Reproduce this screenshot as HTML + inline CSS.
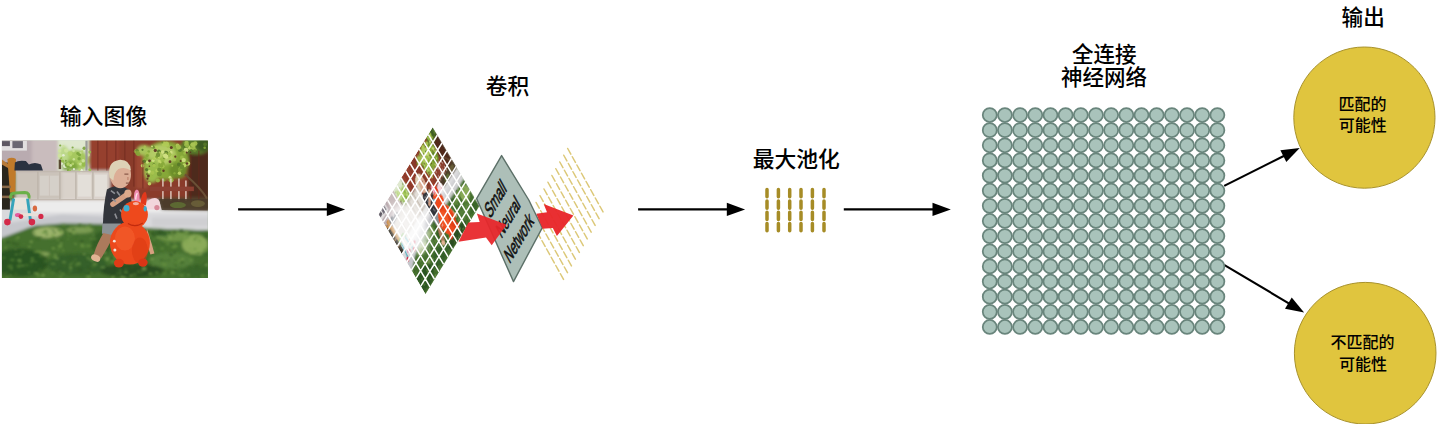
<!DOCTYPE html>
<html><head><meta charset="utf-8"><title>CNN pipeline</title>
<style>
html,body{margin:0;padding:0;background:#fff;}
body{width:1440px;height:424px;overflow:hidden;font-family:"Liberation Sans",sans-serif;}
svg{display:block;}
</style></head><body>
<svg width="1440" height="424" viewBox="0 0 1440 424">
<defs>
<filter id="b1" x="-5%" y="-5%" width="110%" height="110%"><feGaussianBlur stdDeviation="0.6"/></filter>
<filter id="b15" x="-5%" y="-5%" width="110%" height="110%"><feGaussianBlur stdDeviation="1.0"/></filter>
<filter id="b2" x="-20%" y="-20%" width="140%" height="140%"><feGaussianBlur stdDeviation="1.6"/></filter>
<filter id="b3" x="-30%" y="-30%" width="160%" height="160%"><feGaussianBlur stdDeviation="3"/></filter>
<clipPath id="pc"><rect x="0" y="0" width="206" height="137.5"/></clipPath>
<g id="photo" clip-path="url(#pc)">
<rect x="0" y="0" width="206" height="137.5" fill="#456f2e"/>
<g filter="url(#b2)">
<!-- house siding -->
<rect x="-4" y="-4" width="64" height="36" fill="#b9abb0"/>
<rect x="30" y="-4" width="30" height="34" fill="#c9bcbd"/>
<!-- sky / light trees -->
<rect x="56" y="-4" width="33" height="36" fill="#dfe8cf"/>
<ellipse cx="74" cy="20" rx="13" ry="11" fill="#a6c85e"/>
<ellipse cx="68" cy="26" rx="8" ry="6" fill="#7fa83e"/>
<ellipse cx="62" cy="14" rx="5" ry="9" fill="#bcd88a"/>
<!-- red fence -->
<rect x="87.5" y="-4" width="122" height="66" fill="#8a3a2a"/>
<rect x="87.5" y="-4" width="30" height="36" fill="#96402e"/>
<rect x="186" y="10" width="24" height="54" fill="#4e2a1c"/>
<rect x="134" y="14" width="12" height="34" fill="#9c4632"/>
<!-- lattice fence -->
<rect x="13" y="30" width="95" height="31" fill="#cbc3ba"/>
<rect x="60" y="30" width="48" height="31" fill="#d9d2ca"/>
<!-- concrete -->
<path d="M-4,60 L210,60 L210,90 L150,88 L104,83.5 L60,83 C40,86 20,92 -4,99 Z" fill="#d9d9dc"/>
<rect x="30" y="60" width="180" height="12" fill="#ececec"/>
<path d="M150,77 L210,77 L210,86 L150,86 Z" fill="#cfcfd2"/>
<path d="M-4,84 L60,74 L104,76 L104,83.5 L60,83 C40,86 20,92 -4,99 Z" fill="#c6c7cc"/>
<!-- mulch -->
<path d="M156,57 L210,57 L210,70 L160,69.5 Z" fill="#54452f"/>
<ellipse cx="190" cy="64" rx="14" ry="3" fill="#6c7a3c"/>
<!-- grass tones -->
<path d="M-4,99 C12,93 24,88 34,85 L60,83 L104,83.5 L150,88 L210,90 L210,142 L-4,142 Z" fill="#456f2e"/>
<ellipse cx="46" cy="92" rx="15" ry="5.5" fill="#9cb46c"/>
<ellipse cx="78" cy="89.5" rx="14" ry="3.5" fill="#7c9c52"/>
<ellipse cx="42" cy="114" rx="6" ry="2.5" fill="#86a45a"/>
<ellipse cx="193" cy="104" rx="13" ry="10" fill="#8aaa58"/>
<ellipse cx="172" cy="96" rx="16" ry="5" fill="#6f9646"/>
<ellipse cx="170" cy="120" rx="22" ry="8" fill="#55803a"/>
<ellipse cx="18" cy="122" rx="28" ry="14" fill="#2c5424"/>
<ellipse cx="75" cy="124" rx="30" ry="11" fill="#35602a"/>
<ellipse cx="130" cy="130" rx="32" ry="7" fill="#2a4e22"/>
<ellipse cx="160" cy="93" rx="10" ry="3" fill="#35602a"/>
<ellipse cx="100" cy="103" rx="10" ry="12" fill="#345e28"/>
<ellipse cx="195" cy="131" rx="16" ry="6" fill="#3a662c"/>
<!-- tree foliage right -->
<ellipse cx="164" cy="20" rx="23" ry="19" fill="#86a838"/>
<ellipse cx="160" cy="14" rx="14" ry="10" fill="#b4cc66"/>
<ellipse cx="150" cy="30" rx="8" ry="12" fill="#9abc4c"/>
<ellipse cx="194" cy="5" rx="15" ry="9" fill="#587a2a"/><ellipse cx="202" cy="4" rx="8" ry="7" fill="#3e5c20"/>
<ellipse cx="142" cy="10" rx="7" ry="5" fill="#a8c45a"/>
<ellipse cx="176" cy="30" rx="9" ry="8" fill="#6c8e2c"/>
</g>
<g filter="url(#b1)" opacity="0.9"><circle cx="154.6" cy="7.2" r="2.0" fill="#b2cc58"/><circle cx="192.4" cy="4.5" r="1.9" fill="#86a838"/><circle cx="162.3" cy="39.7" r="1.2" fill="#86a838"/><circle cx="177.9" cy="28.0" r="1.1" fill="#d2e284"/><circle cx="133.8" cy="10.6" r="1.9" fill="#9cbc48"/><circle cx="152.0" cy="6.9" r="1.2" fill="#6e9030"/><circle cx="172.6" cy="32.7" r="1.2" fill="#86a838"/><circle cx="158.3" cy="26.3" r="1.1" fill="#c4da68"/><circle cx="177.0" cy="23.8" r="1.9" fill="#56782a"/><circle cx="157.5" cy="11.9" r="1.3" fill="#86a838"/><circle cx="167.6" cy="16.5" r="1.7" fill="#b2cc58"/><circle cx="187.5" cy="7.3" r="1.8" fill="#c4da68"/><circle cx="203.1" cy="3.7" r="1.9" fill="#56782a"/><circle cx="155.8" cy="16.8" r="1.8" fill="#a8c450"/><circle cx="150.5" cy="33.5" r="1.1" fill="#6e9030"/><circle cx="159.3" cy="32.1" r="1.0" fill="#a8c450"/><circle cx="157.0" cy="29.3" r="1.8" fill="#86a838"/><circle cx="188.4" cy="6.2" r="1.4" fill="#d2e284"/><circle cx="142.6" cy="19.3" r="1.4" fill="#9cbc48"/><circle cx="151.2" cy="19.9" r="1.6" fill="#d2e284"/><circle cx="202.8" cy="7.2" r="1.3" fill="#86a838"/><circle cx="193.2" cy="8.8" r="1.5" fill="#9cbc48"/><circle cx="161.8" cy="17.7" r="1.9" fill="#9cbc48"/><circle cx="182.5" cy="24.7" r="2.0" fill="#c4da68"/><circle cx="172.5" cy="19.1" r="1.6" fill="#a8c450"/><circle cx="135.1" cy="10.0" r="1.3" fill="#56782a"/><circle cx="175.7" cy="4.9" r="1.9" fill="#b2cc58"/><circle cx="135.3" cy="10.0" r="1.6" fill="#6e9030"/><circle cx="166.0" cy="5.5" r="1.8" fill="#a8c450"/><circle cx="166.5" cy="15.0" r="1.2" fill="#56782a"/><circle cx="186.3" cy="23.0" r="2.1" fill="#c4da68"/><circle cx="157.5" cy="33.1" r="2.5" fill="#6e9030"/><circle cx="182.9" cy="12.5" r="1.6" fill="#9cbc48"/><circle cx="157.0" cy="10.7" r="1.9" fill="#56782a"/><circle cx="178.4" cy="29.4" r="2.3" fill="#86a838"/><circle cx="186.2" cy="10.9" r="1.8" fill="#56782a"/><circle cx="144.7" cy="29.0" r="1.6" fill="#56782a"/><circle cx="146.8" cy="10.9" r="1.3" fill="#86a838"/><circle cx="184.1" cy="9.6" r="2.4" fill="#d2e284"/><circle cx="160.1" cy="19.3" r="2.5" fill="#9cbc48"/><circle cx="142.9" cy="6.1" r="1.2" fill="#a8c450"/><circle cx="191.3" cy="7.0" r="2.3" fill="#a8c450"/><circle cx="180.0" cy="16.8" r="1.9" fill="#9cbc48"/><circle cx="185.2" cy="4.9" r="2.2" fill="#9cbc48"/><circle cx="192.8" cy="10.1" r="1.4" fill="#6e9030"/><circle cx="168.1" cy="36.7" r="1.5" fill="#d2e284"/><circle cx="193.4" cy="2.9" r="2.2" fill="#a8c450"/><circle cx="169.3" cy="39.7" r="2.4" fill="#9cbc48"/><circle cx="170.4" cy="25.1" r="1.0" fill="#a8c450"/><circle cx="189.0" cy="7.2" r="1.2" fill="#b2cc58"/><circle cx="172.3" cy="15.6" r="1.8" fill="#a8c450"/><circle cx="189.6" cy="5.1" r="1.9" fill="#86a838"/><circle cx="145.2" cy="13.3" r="1.8" fill="#a8c450"/><circle cx="168.6" cy="11.9" r="1.8" fill="#6e9030"/><circle cx="145.4" cy="21.5" r="1.7" fill="#d2e284"/><circle cx="163.6" cy="3.5" r="1.4" fill="#b2cc58"/><circle cx="146.2" cy="14.5" r="1.2" fill="#9cbc48"/><circle cx="157.8" cy="12.1" r="1.2" fill="#a8c450"/><circle cx="160.3" cy="23.4" r="2.6" fill="#86a838"/><circle cx="142.3" cy="20.7" r="1.8" fill="#56782a"/><circle cx="162.0" cy="17.1" r="1.1" fill="#56782a"/><circle cx="155.2" cy="29.9" r="1.8" fill="#b2cc58"/><circle cx="147.4" cy="42.1" r="1.1" fill="#6e9030"/><circle cx="150.6" cy="6.2" r="1.7" fill="#6e9030"/><circle cx="160.9" cy="25.8" r="1.8" fill="#a8c450"/><circle cx="183.2" cy="4.3" r="1.1" fill="#9cbc48"/><circle cx="162.3" cy="3.5" r="2.5" fill="#b2cc58"/><circle cx="190.9" cy="4.0" r="2.4" fill="#b2cc58"/><circle cx="150.1" cy="5.8" r="1.0" fill="#d2e284"/><circle cx="145.3" cy="15.0" r="1.5" fill="#86a838"/><circle cx="152.0" cy="24.0" r="1.3" fill="#56782a"/><circle cx="169.1" cy="11.8" r="1.7" fill="#d2e284"/><circle cx="179.9" cy="26.2" r="2.4" fill="#6e9030"/><circle cx="156.0" cy="39.9" r="2.1" fill="#9cbc48"/><circle cx="160.8" cy="16.7" r="1.1" fill="#9cbc48"/><circle cx="158.9" cy="24.3" r="2.6" fill="#86a838"/><circle cx="182.6" cy="2.2" r="1.3" fill="#6e9030"/><circle cx="163.9" cy="12.6" r="2.5" fill="#56782a"/><circle cx="153.5" cy="17.1" r="1.0" fill="#d2e284"/><circle cx="136.4" cy="13.4" r="2.0" fill="#86a838"/><circle cx="160.4" cy="2.0" r="1.0" fill="#6e9030"/><circle cx="167.6" cy="13.6" r="2.0" fill="#9cbc48"/><circle cx="140.6" cy="25.1" r="1.8" fill="#c4da68"/><circle cx="182.7" cy="11.0" r="1.0" fill="#9cbc48"/><circle cx="158.6" cy="21.7" r="1.1" fill="#c4da68"/><circle cx="177.6" cy="32.7" r="1.8" fill="#c4da68"/><circle cx="164.7" cy="3.4" r="2.5" fill="#b2cc58"/><circle cx="135.7" cy="12.7" r="2.2" fill="#86a838"/><circle cx="147.5" cy="31.2" r="1.7" fill="#d2e284"/><circle cx="178.1" cy="9.5" r="2.0" fill="#56782a"/><circle cx="149.3" cy="35.7" r="1.5" fill="#9cbc48"/><circle cx="150.4" cy="32.3" r="2.1" fill="#a8c450"/><circle cx="152.1" cy="24.8" r="1.7" fill="#a8c450"/><circle cx="171.7" cy="15.0" r="1.1" fill="#a8c450"/><circle cx="164.2" cy="12.9" r="1.3" fill="#86a838"/><circle cx="157.3" cy="29.0" r="2.0" fill="#6e9030"/><circle cx="147.6" cy="43.1" r="1.8" fill="#c4da68"/><circle cx="181.8" cy="19.5" r="2.2" fill="#d2e284"/><circle cx="156.1" cy="15.2" r="2.3" fill="#c4da68"/><circle cx="154.7" cy="16.2" r="1.6" fill="#86a838"/><circle cx="152.0" cy="17.9" r="1.6" fill="#b2cc58"/><circle cx="157.4" cy="20.5" r="1.4" fill="#c4da68"/><circle cx="180.3" cy="30.5" r="1.2" fill="#6e9030"/><circle cx="163.2" cy="15.1" r="2.2" fill="#d2e284"/><circle cx="184.7" cy="2.4" r="2.2" fill="#a8c450"/><circle cx="176.7" cy="6.7" r="2.4" fill="#a8c450"/><circle cx="156.1" cy="14.3" r="2.2" fill="#6e9030"/><circle cx="160.9" cy="11.5" r="1.8" fill="#d2e284"/><circle cx="164.4" cy="16.0" r="2.2" fill="#d2e284"/><circle cx="140.6" cy="9.2" r="1.1" fill="#56782a"/><circle cx="173.4" cy="16.1" r="1.1" fill="#5a3020"/><circle cx="188.6" cy="11.7" r="0.8" fill="#5a3020"/><circle cx="184.8" cy="12.0" r="1.0" fill="#5a3020"/><circle cx="185.1" cy="22.9" r="1.3" fill="#5a3020"/><circle cx="161.6" cy="30.1" r="1.2" fill="#5a3020"/><circle cx="145.6" cy="38.1" r="1.1" fill="#5a3020"/><circle cx="178.7" cy="20.4" r="1.0" fill="#5a3020"/><circle cx="147.6" cy="20.2" r="1.4" fill="#5a3020"/><circle cx="169.4" cy="6.8" r="1.5" fill="#5a3020"/><circle cx="168.1" cy="21.1" r="1.4" fill="#5a3020"/><circle cx="153.4" cy="9.8" r="1.6" fill="#5a3020"/><circle cx="146.5" cy="35.4" r="1.4" fill="#5a3020"/><circle cx="145.1" cy="33.5" r="0.8" fill="#5a3020"/><circle cx="147.5" cy="25.6" r="0.8" fill="#5a3020"/><circle cx="79.2" cy="30.0" r="1.9" fill="#e8f0dc"/><circle cx="76.7" cy="22.9" r="1.2" fill="#b6d46c"/><circle cx="66.3" cy="29.5" r="1.3" fill="#7aa43c"/><circle cx="63.9" cy="20.2" r="1.0" fill="#7aa43c"/><circle cx="87.9" cy="11.5" r="1.4" fill="#96bc4c"/><circle cx="71.7" cy="10.3" r="1.3" fill="#cfe49c"/><circle cx="78.8" cy="12.3" r="1.0" fill="#cfe49c"/><circle cx="84.4" cy="21.5" r="1.1" fill="#96bc4c"/><circle cx="77.7" cy="29.0" r="1.3" fill="#b6d46c"/><circle cx="78.6" cy="23.4" r="1.5" fill="#cfe49c"/><circle cx="63.1" cy="25.5" r="2.0" fill="#e8f0dc"/><circle cx="59.1" cy="17.4" r="1.3" fill="#96bc4c"/><circle cx="64.2" cy="10.0" r="2.1" fill="#cfe49c"/><circle cx="60.4" cy="20.8" r="1.9" fill="#96bc4c"/><circle cx="72.0" cy="28.6" r="1.1" fill="#e8f0dc"/><circle cx="61.5" cy="14.6" r="1.3" fill="#e8f0dc"/><circle cx="61.4" cy="5.4" r="1.1" fill="#cfe49c"/><circle cx="70.9" cy="23.2" r="1.4" fill="#b6d46c"/><circle cx="87.9" cy="29.2" r="1.5" fill="#96bc4c"/><circle cx="77.2" cy="18.2" r="1.7" fill="#7aa43c"/><circle cx="77.6" cy="14.2" r="1.5" fill="#7aa43c"/><circle cx="70.7" cy="6.9" r="1.1" fill="#7aa43c"/><circle cx="67.9" cy="29.8" r="1.2" fill="#96bc4c"/><circle cx="68.8" cy="24.8" r="1.4" fill="#cfe49c"/><circle cx="59.7" cy="23.0" r="1.3" fill="#e8f0dc"/><circle cx="85.5" cy="9.2" r="1.5" fill="#cfe49c"/><circle cx="57.9" cy="15.1" r="2.1" fill="#cfe49c"/><circle cx="58.3" cy="4.9" r="1.1" fill="#7aa43c"/><circle cx="65.0" cy="24.2" r="2.3" fill="#7aa43c"/><circle cx="68.3" cy="13.0" r="2.3" fill="#b6d46c"/><circle cx="65.1" cy="23.3" r="1.4" fill="#7aa43c"/><circle cx="66.2" cy="23.5" r="1.8" fill="#b6d46c"/><circle cx="57.8" cy="10.3" r="1.7" fill="#cfe49c"/><circle cx="86.6" cy="14.4" r="1.4" fill="#cfe49c"/><circle cx="82.3" cy="7.6" r="1.7" fill="#7aa43c"/><circle cx="81.9" cy="23.9" r="2.2" fill="#96bc4c"/><circle cx="75.8" cy="12.9" r="1.4" fill="#7aa43c"/><circle cx="81.3" cy="20.1" r="1.7" fill="#cfe49c"/><circle cx="80.3" cy="10.7" r="1.1" fill="#b6d46c"/><circle cx="71.9" cy="18.7" r="1.2" fill="#cfe49c"/></g>
<g filter="url(#b15)" opacity="0.6"><ellipse cx="182.0" cy="136.4" rx="1.3" ry="0.6" fill="#5a8638"/><ellipse cx="86.7" cy="136.4" rx="2.5" ry="1.2" fill="#7aa24c"/><ellipse cx="85.9" cy="117.1" rx="2.0" ry="1.4" fill="#5a8638"/><ellipse cx="160.6" cy="103.4" rx="1.3" ry="0.7" fill="#345c24"/><ellipse cx="152.0" cy="98.6" rx="1.2" ry="0.6" fill="#7aa24c"/><ellipse cx="58.0" cy="132.2" rx="1.1" ry="0.5" fill="#345c24"/><ellipse cx="204.4" cy="114.3" rx="1.2" ry="0.9" fill="#2e5220"/><ellipse cx="204.1" cy="95.6" rx="1.7" ry="1.2" fill="#2e5220"/><ellipse cx="188.4" cy="92.3" rx="1.3" ry="0.6" fill="#3e6828"/><ellipse cx="123.7" cy="128.3" rx="1.1" ry="0.5" fill="#7aa24c"/><ellipse cx="92.5" cy="98.1" rx="2.2" ry="1.7" fill="#5a8638"/><ellipse cx="131.3" cy="122.5" rx="1.4" ry="0.6" fill="#4a762e"/><ellipse cx="29.1" cy="101.4" rx="1.3" ry="0.8" fill="#3e6828"/><ellipse cx="167.8" cy="128.4" rx="1.5" ry="0.8" fill="#345c24"/><ellipse cx="16.1" cy="97.0" rx="1.7" ry="1.0" fill="#8aac5a"/><ellipse cx="20.9" cy="111.3" rx="1.8" ry="1.2" fill="#5a8638"/><ellipse cx="134.5" cy="107.2" rx="1.3" ry="1.0" fill="#345c24"/><ellipse cx="86.1" cy="87.2" rx="2.1" ry="1.6" fill="#8aac5a"/><ellipse cx="85.8" cy="129.9" rx="2.6" ry="1.4" fill="#3e6828"/><ellipse cx="80.5" cy="105.8" rx="2.5" ry="1.4" fill="#7aa24c"/><ellipse cx="87.3" cy="127.6" rx="1.5" ry="1.2" fill="#2e5220"/><ellipse cx="159.2" cy="95.5" rx="0.9" ry="0.4" fill="#8aac5a"/><ellipse cx="18.3" cy="121.2" rx="1.5" ry="0.9" fill="#7aa24c"/><ellipse cx="71.7" cy="93.0" rx="1.1" ry="0.5" fill="#8aac5a"/><ellipse cx="101.0" cy="126.8" rx="2.5" ry="1.2" fill="#7aa24c"/><ellipse cx="172.5" cy="91.9" rx="2.4" ry="1.3" fill="#8aac5a"/><ellipse cx="17.8" cy="125.0" rx="2.0" ry="1.5" fill="#3e6828"/><ellipse cx="127.9" cy="117.7" rx="1.2" ry="0.7" fill="#3e6828"/><ellipse cx="8.6" cy="134.6" rx="1.1" ry="0.6" fill="#7aa24c"/><ellipse cx="50.9" cy="123.1" rx="2.4" ry="1.0" fill="#6a9440"/><ellipse cx="137.6" cy="103.7" rx="1.5" ry="0.9" fill="#345c24"/><ellipse cx="133.7" cy="102.7" rx="1.2" ry="0.7" fill="#4a762e"/><ellipse cx="92.0" cy="107.5" rx="0.8" ry="0.5" fill="#2e5220"/><ellipse cx="95.8" cy="108.0" rx="1.9" ry="1.4" fill="#7aa24c"/><ellipse cx="167.0" cy="108.6" rx="0.9" ry="0.5" fill="#4a762e"/><ellipse cx="18.9" cy="113.5" rx="1.7" ry="0.7" fill="#7aa24c"/><ellipse cx="16.9" cy="125.9" rx="2.2" ry="1.3" fill="#6a9440"/><ellipse cx="154.9" cy="132.0" rx="2.0" ry="1.4" fill="#6a9440"/><ellipse cx="176.6" cy="136.8" rx="2.1" ry="1.5" fill="#3e6828"/><ellipse cx="27.1" cy="131.9" rx="1.3" ry="1.0" fill="#7aa24c"/><ellipse cx="141.3" cy="123.4" rx="1.2" ry="0.9" fill="#345c24"/><ellipse cx="32.7" cy="132.3" rx="1.3" ry="0.9" fill="#7aa24c"/><ellipse cx="52.4" cy="135.2" rx="1.7" ry="1.1" fill="#3e6828"/><ellipse cx="65.7" cy="86.4" rx="1.1" ry="0.5" fill="#345c24"/><ellipse cx="140.0" cy="131.9" rx="1.1" ry="0.8" fill="#5a8638"/><ellipse cx="158.3" cy="91.6" rx="2.3" ry="1.8" fill="#2e5220"/><ellipse cx="114.4" cy="115.4" rx="2.4" ry="1.1" fill="#8aac5a"/><ellipse cx="152.0" cy="106.9" rx="1.5" ry="0.8" fill="#7aa24c"/><ellipse cx="74.2" cy="124.6" rx="1.6" ry="0.8" fill="#6a9440"/><ellipse cx="61.1" cy="111.6" rx="1.4" ry="1.1" fill="#4a762e"/><ellipse cx="151.0" cy="124.9" rx="1.2" ry="0.6" fill="#8aac5a"/><ellipse cx="86.0" cy="103.6" rx="0.9" ry="0.5" fill="#6a9440"/><ellipse cx="4.6" cy="98.9" rx="1.4" ry="0.6" fill="#4a762e"/><ellipse cx="110.0" cy="106.5" rx="1.3" ry="0.6" fill="#4a762e"/><ellipse cx="128.5" cy="110.7" rx="1.0" ry="0.8" fill="#3e6828"/><ellipse cx="145.7" cy="110.4" rx="0.9" ry="0.4" fill="#345c24"/><ellipse cx="82.8" cy="98.4" rx="0.8" ry="0.5" fill="#4a762e"/><ellipse cx="122.5" cy="115.6" rx="1.9" ry="1.1" fill="#2e5220"/><ellipse cx="51.2" cy="132.1" rx="0.9" ry="0.5" fill="#8aac5a"/><ellipse cx="38.2" cy="97.3" rx="2.4" ry="1.1" fill="#3e6828"/><ellipse cx="29.3" cy="101.1" rx="1.9" ry="1.1" fill="#8aac5a"/><ellipse cx="167.6" cy="97.9" rx="1.4" ry="0.7" fill="#6a9440"/><ellipse cx="204.8" cy="124.3" rx="1.7" ry="1.0" fill="#8aac5a"/><ellipse cx="174.0" cy="125.0" rx="1.6" ry="1.1" fill="#2e5220"/><ellipse cx="36.1" cy="136.8" rx="1.3" ry="0.8" fill="#5a8638"/><ellipse cx="69.1" cy="123.9" rx="2.1" ry="1.5" fill="#6a9440"/><ellipse cx="54.8" cy="114.0" rx="1.6" ry="1.1" fill="#345c24"/><ellipse cx="60.9" cy="133.2" rx="2.4" ry="1.0" fill="#6a9440"/><ellipse cx="35.0" cy="132.6" rx="2.3" ry="1.1" fill="#7aa24c"/><ellipse cx="153.7" cy="104.8" rx="2.4" ry="1.3" fill="#3e6828"/><ellipse cx="78.2" cy="129.2" rx="2.5" ry="1.9" fill="#2e5220"/><ellipse cx="97.3" cy="112.4" rx="0.8" ry="0.3" fill="#3e6828"/><ellipse cx="117.5" cy="101.6" rx="1.2" ry="0.8" fill="#5a8638"/><ellipse cx="116.4" cy="94.5" rx="0.9" ry="0.4" fill="#7aa24c"/><ellipse cx="71.0" cy="91.9" rx="0.9" ry="0.4" fill="#6a9440"/><ellipse cx="143.6" cy="124.2" rx="0.9" ry="0.6" fill="#4a762e"/><ellipse cx="41.1" cy="134.8" rx="1.8" ry="1.2" fill="#8aac5a"/><ellipse cx="22.1" cy="102.9" rx="1.0" ry="0.4" fill="#5a8638"/><ellipse cx="170.0" cy="119.6" rx="1.3" ry="0.6" fill="#5a8638"/><ellipse cx="163.1" cy="120.2" rx="1.3" ry="0.7" fill="#345c24"/><ellipse cx="4.3" cy="108.6" rx="1.3" ry="0.9" fill="#4a762e"/><ellipse cx="187.5" cy="126.2" rx="1.9" ry="1.1" fill="#345c24"/><ellipse cx="127.4" cy="88.3" rx="1.5" ry="0.9" fill="#5a8638"/><ellipse cx="71.4" cy="121.5" rx="1.8" ry="0.9" fill="#5a8638"/><ellipse cx="118.4" cy="100.6" rx="1.6" ry="1.0" fill="#345c24"/><ellipse cx="157.0" cy="135.9" rx="0.8" ry="0.5" fill="#2e5220"/><ellipse cx="143.2" cy="128.5" rx="2.5" ry="1.6" fill="#345c24"/><ellipse cx="119.1" cy="94.1" rx="2.3" ry="1.8" fill="#3e6828"/><ellipse cx="102.7" cy="90.3" rx="1.9" ry="0.8" fill="#5a8638"/><ellipse cx="129.4" cy="104.8" rx="1.5" ry="0.8" fill="#5a8638"/><ellipse cx="87.0" cy="118.4" rx="1.5" ry="0.8" fill="#8aac5a"/><ellipse cx="185.7" cy="113.7" rx="1.5" ry="1.1" fill="#3e6828"/><ellipse cx="194.4" cy="96.5" rx="1.9" ry="1.3" fill="#6a9440"/><ellipse cx="71.8" cy="101.6" rx="1.1" ry="0.8" fill="#4a762e"/><ellipse cx="34.9" cy="111.0" rx="2.2" ry="1.4" fill="#7aa24c"/><ellipse cx="68.8" cy="118.2" rx="2.1" ry="1.2" fill="#345c24"/><ellipse cx="62.1" cy="121.4" rx="2.3" ry="1.1" fill="#7aa24c"/><ellipse cx="200.8" cy="124.2" rx="1.9" ry="1.0" fill="#3e6828"/><ellipse cx="67.6" cy="94.4" rx="2.6" ry="1.8" fill="#5a8638"/><ellipse cx="33.9" cy="121.2" rx="1.2" ry="0.5" fill="#7aa24c"/><ellipse cx="163.7" cy="124.3" rx="1.6" ry="0.8" fill="#5a8638"/><ellipse cx="57.8" cy="131.0" rx="1.6" ry="0.7" fill="#8aac5a"/><ellipse cx="142.8" cy="112.7" rx="1.9" ry="1.1" fill="#7aa24c"/><ellipse cx="53.0" cy="123.6" rx="0.8" ry="0.4" fill="#8aac5a"/><ellipse cx="144.4" cy="117.0" rx="2.0" ry="1.5" fill="#3e6828"/><ellipse cx="140.0" cy="119.4" rx="1.6" ry="0.8" fill="#5a8638"/><ellipse cx="184.3" cy="101.6" rx="1.5" ry="1.0" fill="#7aa24c"/><ellipse cx="51.5" cy="107.8" rx="1.6" ry="1.1" fill="#8aac5a"/><ellipse cx="106.8" cy="119.3" rx="2.4" ry="1.8" fill="#4a762e"/><ellipse cx="160.3" cy="107.9" rx="1.7" ry="1.3" fill="#6a9440"/><ellipse cx="51.8" cy="97.3" rx="2.1" ry="1.6" fill="#3e6828"/><ellipse cx="107.0" cy="90.1" rx="1.8" ry="1.1" fill="#2e5220"/><ellipse cx="105.5" cy="118.1" rx="2.3" ry="1.4" fill="#8aac5a"/><ellipse cx="152.9" cy="111.0" rx="2.6" ry="1.2" fill="#5a8638"/><ellipse cx="150.2" cy="118.5" rx="1.9" ry="1.0" fill="#8aac5a"/><ellipse cx="82.3" cy="85.2" rx="1.6" ry="0.9" fill="#4a762e"/><ellipse cx="119.5" cy="91.6" rx="1.3" ry="0.8" fill="#3e6828"/><ellipse cx="204.8" cy="135.2" rx="1.6" ry="0.8" fill="#5a8638"/><ellipse cx="166.8" cy="119.7" rx="1.6" ry="1.0" fill="#3e6828"/><ellipse cx="167.8" cy="96.6" rx="2.0" ry="1.5" fill="#8aac5a"/><ellipse cx="96.4" cy="100.0" rx="1.8" ry="0.8" fill="#2e5220"/><ellipse cx="73.1" cy="129.2" rx="1.3" ry="0.7" fill="#345c24"/><ellipse cx="202.5" cy="122.2" rx="1.7" ry="1.2" fill="#345c24"/><ellipse cx="73.7" cy="118.9" rx="1.4" ry="0.8" fill="#5a8638"/><ellipse cx="135.8" cy="105.5" rx="2.5" ry="1.8" fill="#6a9440"/><ellipse cx="17.6" cy="118.9" rx="1.4" ry="1.1" fill="#4a762e"/><ellipse cx="130.4" cy="87.8" rx="0.8" ry="0.6" fill="#345c24"/><ellipse cx="51.5" cy="91.4" rx="1.1" ry="0.5" fill="#2e5220"/><ellipse cx="71.4" cy="92.5" rx="2.4" ry="1.7" fill="#7aa24c"/><ellipse cx="125.6" cy="121.3" rx="2.6" ry="1.1" fill="#345c24"/><ellipse cx="40.7" cy="122.3" rx="1.8" ry="1.2" fill="#2e5220"/><ellipse cx="138.3" cy="93.6" rx="1.0" ry="0.6" fill="#7aa24c"/><ellipse cx="97.5" cy="113.8" rx="1.7" ry="1.3" fill="#2e5220"/><ellipse cx="50.8" cy="94.8" rx="1.9" ry="1.3" fill="#7aa24c"/><ellipse cx="173.2" cy="111.9" rx="1.8" ry="1.2" fill="#2e5220"/><ellipse cx="77.2" cy="106.5" rx="2.5" ry="1.1" fill="#4a762e"/><ellipse cx="131.0" cy="88.6" rx="1.9" ry="1.3" fill="#4a762e"/><ellipse cx="166.6" cy="94.0" rx="1.7" ry="1.2" fill="#7aa24c"/><ellipse cx="7.0" cy="126.0" rx="1.9" ry="1.0" fill="#4a762e"/><ellipse cx="70.3" cy="125.4" rx="1.8" ry="1.4" fill="#345c24"/><ellipse cx="89.6" cy="106.7" rx="1.8" ry="1.3" fill="#345c24"/><ellipse cx="73.2" cy="110.4" rx="1.4" ry="1.1" fill="#4a762e"/><ellipse cx="200.8" cy="121.0" rx="2.2" ry="1.2" fill="#4a762e"/><ellipse cx="146.9" cy="94.9" rx="2.6" ry="1.1" fill="#6a9440"/><ellipse cx="82.2" cy="113.6" rx="1.5" ry="1.0" fill="#8aac5a"/><ellipse cx="61.9" cy="84.8" rx="1.1" ry="0.9" fill="#6a9440"/><ellipse cx="162.5" cy="132.7" rx="1.9" ry="1.2" fill="#5a8638"/><ellipse cx="43.8" cy="120.8" rx="1.6" ry="1.1" fill="#5a8638"/><ellipse cx="136.7" cy="130.6" rx="1.6" ry="0.7" fill="#6a9440"/><ellipse cx="76.0" cy="127.7" rx="2.2" ry="1.4" fill="#345c24"/><ellipse cx="177.7" cy="98.7" rx="0.9" ry="0.4" fill="#6a9440"/><ellipse cx="102.5" cy="111.9" rx="2.3" ry="1.6" fill="#8aac5a"/><ellipse cx="118.5" cy="132.8" rx="1.6" ry="0.7" fill="#8aac5a"/><ellipse cx="122.3" cy="136.7" rx="2.0" ry="0.9" fill="#8aac5a"/><ellipse cx="113.1" cy="89.7" rx="1.6" ry="1.3" fill="#6a9440"/><ellipse cx="88.0" cy="85.0" rx="2.0" ry="1.6" fill="#5a8638"/><ellipse cx="45.0" cy="94.0" rx="1.7" ry="0.8" fill="#3e6828"/><ellipse cx="92.9" cy="123.6" rx="2.5" ry="1.3" fill="#7aa24c"/><ellipse cx="150.3" cy="93.1" rx="1.9" ry="1.3" fill="#2e5220"/><ellipse cx="137.9" cy="131.6" rx="2.4" ry="1.0" fill="#6a9440"/><ellipse cx="2.3" cy="99.9" rx="2.0" ry="1.4" fill="#5a8638"/><ellipse cx="80.1" cy="100.9" rx="1.9" ry="1.5" fill="#2e5220"/><ellipse cx="125.4" cy="102.5" rx="2.5" ry="1.7" fill="#2e5220"/><ellipse cx="139.4" cy="95.1" rx="2.2" ry="1.2" fill="#7aa24c"/><ellipse cx="129.7" cy="107.9" rx="1.5" ry="1.1" fill="#345c24"/><ellipse cx="161.6" cy="116.4" rx="1.3" ry="0.6" fill="#4a762e"/><ellipse cx="179.1" cy="124.1" rx="0.8" ry="0.4" fill="#345c24"/><ellipse cx="120.4" cy="135.8" rx="1.2" ry="0.7" fill="#8aac5a"/><ellipse cx="124.0" cy="131.7" rx="2.3" ry="1.2" fill="#6a9440"/><ellipse cx="66.2" cy="98.6" rx="1.1" ry="0.8" fill="#6a9440"/><ellipse cx="59.4" cy="91.6" rx="2.4" ry="1.9" fill="#7aa24c"/><ellipse cx="56.4" cy="129.3" rx="2.3" ry="1.5" fill="#2e5220"/><ellipse cx="71.5" cy="89.0" rx="1.8" ry="1.3" fill="#3e6828"/><ellipse cx="162.3" cy="123.8" rx="2.6" ry="1.3" fill="#6a9440"/><ellipse cx="139.6" cy="110.8" rx="1.2" ry="0.6" fill="#6a9440"/><ellipse cx="163.1" cy="111.3" rx="1.0" ry="0.7" fill="#5a8638"/><ellipse cx="48.0" cy="116.1" rx="2.4" ry="1.8" fill="#4a762e"/><ellipse cx="98.2" cy="115.4" rx="1.1" ry="0.5" fill="#7aa24c"/><ellipse cx="166.0" cy="103.3" rx="1.8" ry="1.0" fill="#7aa24c"/><ellipse cx="50.7" cy="133.1" rx="1.7" ry="1.3" fill="#4a762e"/><ellipse cx="130.3" cy="126.4" rx="1.1" ry="0.7" fill="#4a762e"/><ellipse cx="57.8" cy="116.4" rx="1.0" ry="0.5" fill="#2e5220"/><ellipse cx="120.9" cy="97.0" rx="2.5" ry="1.3" fill="#5a8638"/><ellipse cx="195.0" cy="126.2" rx="2.3" ry="1.8" fill="#345c24"/><ellipse cx="173.8" cy="105.8" rx="2.6" ry="1.4" fill="#6a9440"/><ellipse cx="10.5" cy="119.4" rx="2.4" ry="1.4" fill="#5a8638"/><ellipse cx="177.8" cy="120.1" rx="2.5" ry="1.7" fill="#5a8638"/><ellipse cx="53.0" cy="114.7" rx="2.0" ry="1.5" fill="#8aac5a"/><ellipse cx="37.6" cy="129.9" rx="1.5" ry="0.7" fill="#3e6828"/><ellipse cx="35.5" cy="134.3" rx="2.5" ry="1.1" fill="#6a9440"/><ellipse cx="172.5" cy="92.0" rx="2.2" ry="1.5" fill="#2e5220"/><ellipse cx="11.5" cy="102.7" rx="2.2" ry="1.7" fill="#345c24"/><ellipse cx="121.5" cy="108.6" rx="2.0" ry="1.2" fill="#4a762e"/><ellipse cx="52.9" cy="92.2" rx="1.7" ry="0.8" fill="#3e6828"/><ellipse cx="166.4" cy="132.9" rx="2.4" ry="1.4" fill="#3e6828"/><ellipse cx="164.6" cy="97.0" rx="2.3" ry="1.0" fill="#4a762e"/><ellipse cx="183.1" cy="96.7" rx="1.6" ry="0.7" fill="#8aac5a"/><ellipse cx="173.5" cy="119.5" rx="1.6" ry="0.9" fill="#3e6828"/><ellipse cx="98.4" cy="117.5" rx="1.1" ry="0.5" fill="#6a9440"/><ellipse cx="37.1" cy="111.3" rx="2.4" ry="1.4" fill="#7aa24c"/><ellipse cx="54.9" cy="106.6" rx="1.1" ry="0.5" fill="#345c24"/><ellipse cx="68.9" cy="93.3" rx="1.7" ry="0.9" fill="#2e5220"/><ellipse cx="23.5" cy="136.1" rx="0.9" ry="0.7" fill="#3e6828"/><ellipse cx="115.3" cy="128.5" rx="1.0" ry="0.7" fill="#4a762e"/><ellipse cx="89.0" cy="98.2" rx="1.2" ry="0.6" fill="#8aac5a"/><ellipse cx="59.6" cy="131.5" rx="0.9" ry="0.6" fill="#345c24"/><ellipse cx="29.7" cy="120.8" rx="1.6" ry="1.0" fill="#7aa24c"/><ellipse cx="91.3" cy="126.0" rx="2.5" ry="1.3" fill="#4a762e"/><ellipse cx="89.7" cy="132.4" rx="1.2" ry="0.7" fill="#7aa24c"/><ellipse cx="173.7" cy="114.4" rx="1.2" ry="0.6" fill="#5a8638"/><ellipse cx="170.8" cy="131.8" rx="2.1" ry="1.5" fill="#7aa24c"/><ellipse cx="42.4" cy="118.3" rx="2.1" ry="1.5" fill="#345c24"/><ellipse cx="41.7" cy="92.0" rx="2.1" ry="1.2" fill="#6a9440"/><ellipse cx="106.8" cy="102.9" rx="1.3" ry="0.9" fill="#2e5220"/><ellipse cx="18.6" cy="112.2" rx="2.2" ry="1.0" fill="#345c24"/><ellipse cx="51.2" cy="114.9" rx="2.6" ry="1.1" fill="#4a762e"/><ellipse cx="118.4" cy="129.7" rx="1.4" ry="1.1" fill="#5a8638"/><ellipse cx="24.9" cy="124.5" rx="2.3" ry="1.7" fill="#4a762e"/><ellipse cx="160.5" cy="130.7" rx="1.8" ry="1.4" fill="#345c24"/><ellipse cx="179.8" cy="134.8" rx="1.7" ry="1.0" fill="#7aa24c"/><ellipse cx="4.3" cy="135.8" rx="1.2" ry="0.6" fill="#5a8638"/><ellipse cx="64.3" cy="113.7" rx="2.5" ry="1.0" fill="#3e6828"/><ellipse cx="53.9" cy="128.6" rx="1.9" ry="1.1" fill="#3e6828"/><ellipse cx="144.7" cy="93.5" rx="2.4" ry="1.6" fill="#6a9440"/><ellipse cx="56.2" cy="109.2" rx="1.9" ry="1.3" fill="#5a8638"/><ellipse cx="25.1" cy="111.0" rx="1.0" ry="0.7" fill="#3e6828"/><ellipse cx="30.3" cy="117.7" rx="2.1" ry="1.0" fill="#6a9440"/><ellipse cx="193.1" cy="108.6" rx="1.6" ry="1.1" fill="#6a9440"/><ellipse cx="81.5" cy="133.9" rx="2.2" ry="1.2" fill="#3e6828"/><ellipse cx="172.7" cy="123.6" rx="2.3" ry="1.5" fill="#4a762e"/><ellipse cx="167.9" cy="129.8" rx="0.9" ry="0.5" fill="#4a762e"/><ellipse cx="51.4" cy="107.7" rx="1.9" ry="1.1" fill="#7aa24c"/><ellipse cx="14.3" cy="113.9" rx="1.7" ry="0.7" fill="#7aa24c"/><ellipse cx="86.7" cy="105.3" rx="2.6" ry="1.5" fill="#6a9440"/><ellipse cx="166.7" cy="131.5" rx="2.4" ry="1.0" fill="#345c24"/><ellipse cx="189.1" cy="119.5" rx="1.9" ry="1.4" fill="#6a9440"/><ellipse cx="128.0" cy="99.4" rx="1.7" ry="1.0" fill="#6a9440"/><ellipse cx="59.2" cy="100.3" rx="2.0" ry="0.9" fill="#345c24"/><ellipse cx="17.4" cy="119.9" rx="2.5" ry="1.4" fill="#7aa24c"/><ellipse cx="182.3" cy="133.0" rx="1.8" ry="0.9" fill="#5a8638"/><ellipse cx="152.5" cy="102.8" rx="1.6" ry="1.1" fill="#3e6828"/><ellipse cx="134.0" cy="97.4" rx="2.1" ry="1.2" fill="#345c24"/><ellipse cx="126.2" cy="110.3" rx="1.4" ry="0.7" fill="#3e6828"/><ellipse cx="38.9" cy="115.5" rx="2.5" ry="1.4" fill="#4a762e"/><ellipse cx="33.4" cy="134.8" rx="1.4" ry="0.7" fill="#345c24"/><ellipse cx="58.7" cy="136.3" rx="1.3" ry="0.9" fill="#7aa24c"/><ellipse cx="113.5" cy="116.7" rx="1.4" ry="0.9" fill="#8aac5a"/><ellipse cx="171.9" cy="106.5" rx="2.2" ry="1.3" fill="#7aa24c"/><ellipse cx="85.9" cy="119.6" rx="1.1" ry="0.5" fill="#345c24"/><ellipse cx="169.2" cy="114.2" rx="2.1" ry="1.5" fill="#2e5220"/><ellipse cx="55.3" cy="117.9" rx="1.9" ry="1.3" fill="#8aac5a"/><ellipse cx="179.4" cy="90.3" rx="2.2" ry="1.4" fill="#2e5220"/><ellipse cx="81.9" cy="136.6" rx="1.1" ry="0.8" fill="#345c24"/><ellipse cx="179.8" cy="118.6" rx="1.5" ry="0.9" fill="#2e5220"/><ellipse cx="59.3" cy="102.8" rx="1.4" ry="0.9" fill="#8aac5a"/><ellipse cx="133.5" cy="87.7" rx="2.1" ry="1.7" fill="#8aac5a"/><ellipse cx="91.5" cy="94.2" rx="1.3" ry="0.6" fill="#8aac5a"/><ellipse cx="119.8" cy="90.5" rx="2.5" ry="1.3" fill="#3e6828"/><ellipse cx="197.5" cy="100.2" rx="1.6" ry="1.2" fill="#6a9440"/><ellipse cx="5.3" cy="108.4" rx="2.4" ry="1.3" fill="#345c24"/><ellipse cx="110.9" cy="136.9" rx="1.7" ry="1.1" fill="#8aac5a"/><ellipse cx="80.2" cy="103.3" rx="1.9" ry="1.0" fill="#6a9440"/><ellipse cx="139.4" cy="113.7" rx="1.0" ry="0.5" fill="#8aac5a"/><ellipse cx="133.6" cy="133.4" rx="1.1" ry="0.5" fill="#8aac5a"/><ellipse cx="100.3" cy="107.6" rx="1.9" ry="1.5" fill="#4a762e"/><ellipse cx="142.5" cy="124.6" rx="1.0" ry="0.5" fill="#4a762e"/><ellipse cx="201.6" cy="129.0" rx="1.7" ry="0.8" fill="#345c24"/><ellipse cx="142.1" cy="128.2" rx="2.6" ry="2.0" fill="#8aac5a"/><ellipse cx="130.0" cy="113.2" rx="2.3" ry="1.1" fill="#3e6828"/><ellipse cx="84.9" cy="87.7" rx="1.8" ry="0.8" fill="#6a9440"/><ellipse cx="142.5" cy="88.8" rx="0.8" ry="0.6" fill="#6a9440"/><ellipse cx="188.9" cy="108.9" rx="1.0" ry="0.4" fill="#6a9440"/><ellipse cx="40.5" cy="113.0" rx="1.8" ry="0.9" fill="#7aa24c"/><ellipse cx="118.3" cy="106.9" rx="1.0" ry="0.5" fill="#5a8638"/><ellipse cx="6.0" cy="101.3" rx="2.5" ry="1.5" fill="#2e5220"/><ellipse cx="126.3" cy="127.3" rx="0.9" ry="0.4" fill="#4a762e"/><ellipse cx="29.6" cy="102.8" rx="1.3" ry="0.5" fill="#5a8638"/><ellipse cx="177.0" cy="134.5" rx="0.9" ry="0.4" fill="#8aac5a"/><ellipse cx="4.0" cy="107.3" rx="1.5" ry="1.1" fill="#6a9440"/><ellipse cx="90.6" cy="117.1" rx="1.2" ry="0.5" fill="#7aa24c"/><ellipse cx="64.8" cy="131.7" rx="2.3" ry="1.2" fill="#345c24"/><ellipse cx="197.8" cy="113.6" rx="2.5" ry="1.2" fill="#8aac5a"/><ellipse cx="139.0" cy="116.6" rx="1.5" ry="0.9" fill="#2e5220"/><ellipse cx="4.6" cy="132.0" rx="1.0" ry="0.4" fill="#8aac5a"/><ellipse cx="38.4" cy="135.7" rx="1.3" ry="0.8" fill="#5a8638"/><ellipse cx="69.0" cy="130.3" rx="1.4" ry="0.9" fill="#5a8638"/><ellipse cx="87.0" cy="132.4" rx="1.8" ry="1.0" fill="#2e5220"/><ellipse cx="58.4" cy="96.9" rx="0.9" ry="0.6" fill="#4a762e"/><ellipse cx="165.8" cy="101.0" rx="1.0" ry="0.5" fill="#7aa24c"/><ellipse cx="114.3" cy="109.6" rx="2.2" ry="1.1" fill="#4a762e"/><ellipse cx="72.7" cy="122.4" rx="1.5" ry="1.2" fill="#3e6828"/><ellipse cx="61.2" cy="109.5" rx="1.2" ry="0.9" fill="#7aa24c"/><ellipse cx="194.1" cy="136.9" rx="1.9" ry="1.1" fill="#4a762e"/><ellipse cx="110.1" cy="106.1" rx="1.7" ry="0.8" fill="#5a8638"/><ellipse cx="139.6" cy="92.5" rx="2.3" ry="1.6" fill="#8aac5a"/><ellipse cx="5.9" cy="126.1" rx="1.1" ry="0.4" fill="#5a8638"/><ellipse cx="143.1" cy="126.1" rx="1.2" ry="0.6" fill="#5a8638"/><ellipse cx="14.0" cy="133.5" rx="2.2" ry="1.6" fill="#3e6828"/><ellipse cx="13.6" cy="109.0" rx="1.2" ry="0.5" fill="#8aac5a"/><ellipse cx="58.2" cy="105.7" rx="2.4" ry="1.7" fill="#7aa24c"/><ellipse cx="193.0" cy="98.7" rx="1.5" ry="1.1" fill="#4a762e"/><ellipse cx="184.8" cy="91.4" rx="2.1" ry="1.2" fill="#8aac5a"/><ellipse cx="72.5" cy="117.5" rx="1.1" ry="0.5" fill="#3e6828"/><ellipse cx="146.8" cy="90.6" rx="0.9" ry="0.4" fill="#3e6828"/><ellipse cx="155.9" cy="96.7" rx="2.1" ry="1.3" fill="#7aa24c"/><ellipse cx="116.3" cy="97.4" rx="1.7" ry="1.0" fill="#8aac5a"/><ellipse cx="138.0" cy="116.1" rx="2.5" ry="1.1" fill="#345c24"/><ellipse cx="185.6" cy="131.2" rx="1.9" ry="1.3" fill="#3e6828"/><ellipse cx="140.3" cy="89.9" rx="1.4" ry="1.0" fill="#4a762e"/><ellipse cx="154.4" cy="93.3" rx="2.1" ry="1.1" fill="#3e6828"/><ellipse cx="57.9" cy="89.3" rx="2.5" ry="1.4" fill="#4a762e"/><ellipse cx="142.5" cy="124.3" rx="2.3" ry="1.5" fill="#2e5220"/><ellipse cx="104.8" cy="120.0" rx="1.2" ry="0.8" fill="#7aa24c"/><ellipse cx="100.8" cy="94.4" rx="2.5" ry="1.8" fill="#345c24"/><ellipse cx="36.0" cy="98.0" rx="2.2" ry="1.1" fill="#345c24"/><ellipse cx="51.4" cy="89.3" rx="1.4" ry="0.8" fill="#3e6828"/><ellipse cx="131.1" cy="94.0" rx="2.0" ry="1.2" fill="#2e5220"/><ellipse cx="49.0" cy="99.0" rx="1.7" ry="1.0" fill="#4a762e"/><ellipse cx="143.8" cy="94.9" rx="2.1" ry="1.3" fill="#3e6828"/><ellipse cx="68.7" cy="127.3" rx="1.8" ry="1.3" fill="#7aa24c"/><ellipse cx="139.5" cy="95.6" rx="2.6" ry="1.9" fill="#8aac5a"/><ellipse cx="171.2" cy="95.2" rx="1.3" ry="0.7" fill="#3e6828"/><ellipse cx="8.9" cy="132.9" rx="1.3" ry="0.6" fill="#345c24"/><ellipse cx="92.3" cy="90.4" rx="1.4" ry="0.8" fill="#4a762e"/><ellipse cx="59.6" cy="113.6" rx="0.9" ry="0.5" fill="#2e5220"/><ellipse cx="17.3" cy="125.2" rx="2.6" ry="1.6" fill="#5a8638"/><ellipse cx="132.9" cy="134.9" rx="1.7" ry="1.2" fill="#4a762e"/><ellipse cx="1.7" cy="134.0" rx="2.0" ry="1.3" fill="#345c24"/><ellipse cx="134.5" cy="91.4" rx="2.1" ry="0.9" fill="#8aac5a"/><ellipse cx="173.0" cy="103.8" rx="1.1" ry="0.7" fill="#7aa24c"/><ellipse cx="21.0" cy="125.0" rx="1.4" ry="0.9" fill="#8aac5a"/><ellipse cx="38.0" cy="128.8" rx="1.4" ry="0.8" fill="#4a762e"/><ellipse cx="172.6" cy="101.8" rx="0.9" ry="0.4" fill="#8aac5a"/><ellipse cx="186.5" cy="134.4" rx="1.7" ry="1.0" fill="#7aa24c"/><ellipse cx="205.1" cy="118.7" rx="1.9" ry="0.9" fill="#3e6828"/><ellipse cx="33.7" cy="111.4" rx="2.5" ry="1.1" fill="#6a9440"/><ellipse cx="175.2" cy="112.5" rx="1.2" ry="0.7" fill="#6a9440"/><ellipse cx="173.2" cy="130.2" rx="2.2" ry="1.3" fill="#345c24"/><ellipse cx="14.8" cy="98.3" rx="2.1" ry="1.6" fill="#5a8638"/><ellipse cx="90.4" cy="119.5" rx="2.3" ry="1.7" fill="#7aa24c"/><ellipse cx="78.0" cy="84.7" rx="2.2" ry="1.5" fill="#3e6828"/><ellipse cx="96.6" cy="113.0" rx="1.7" ry="1.0" fill="#7aa24c"/><ellipse cx="200.7" cy="135.2" rx="1.9" ry="1.4" fill="#6a9440"/><ellipse cx="148.9" cy="104.8" rx="2.0" ry="1.2" fill="#8aac5a"/><ellipse cx="196.3" cy="112.9" rx="2.0" ry="1.0" fill="#4a762e"/><ellipse cx="109.3" cy="118.0" rx="2.3" ry="1.1" fill="#2e5220"/><ellipse cx="142.4" cy="95.4" rx="1.8" ry="1.1" fill="#8aac5a"/><ellipse cx="74.2" cy="97.1" rx="1.6" ry="0.8" fill="#3e6828"/><ellipse cx="37.2" cy="131.8" rx="1.8" ry="0.8" fill="#345c24"/><ellipse cx="133.8" cy="96.7" rx="2.0" ry="1.4" fill="#3e6828"/><ellipse cx="114.1" cy="97.2" rx="1.8" ry="0.8" fill="#5a8638"/><ellipse cx="175.4" cy="121.9" rx="2.2" ry="1.0" fill="#5a8638"/><ellipse cx="129.1" cy="135.0" rx="1.7" ry="1.0" fill="#8aac5a"/><ellipse cx="112.1" cy="135.3" rx="1.1" ry="0.7" fill="#5a8638"/><ellipse cx="28.2" cy="127.0" rx="0.9" ry="0.4" fill="#4a762e"/><ellipse cx="8.6" cy="125.3" rx="2.5" ry="1.5" fill="#5a8638"/><ellipse cx="145.7" cy="109.2" rx="2.4" ry="1.6" fill="#3e6828"/><ellipse cx="116.0" cy="132.8" rx="2.4" ry="1.1" fill="#4a762e"/><ellipse cx="165.6" cy="124.5" rx="0.8" ry="0.4" fill="#3e6828"/><ellipse cx="76.8" cy="123.2" rx="2.5" ry="1.7" fill="#6a9440"/><ellipse cx="168.2" cy="106.4" rx="1.4" ry="0.8" fill="#5a8638"/><ellipse cx="7.0" cy="133.5" rx="1.2" ry="0.7" fill="#2e5220"/><ellipse cx="4.4" cy="136.6" rx="1.6" ry="1.1" fill="#2e5220"/><ellipse cx="22.7" cy="128.4" rx="1.1" ry="0.7" fill="#345c24"/><ellipse cx="180.0" cy="121.5" rx="2.3" ry="1.5" fill="#345c24"/><ellipse cx="110.9" cy="120.9" rx="2.3" ry="1.8" fill="#6a9440"/><ellipse cx="5.1" cy="136.8" rx="1.7" ry="1.0" fill="#6a9440"/><ellipse cx="164.9" cy="91.2" rx="1.1" ry="0.8" fill="#8aac5a"/><ellipse cx="173.6" cy="135.5" rx="2.0" ry="1.2" fill="#3e6828"/><ellipse cx="179.8" cy="118.7" rx="0.9" ry="0.5" fill="#3e6828"/><ellipse cx="64.1" cy="91.4" rx="1.9" ry="0.9" fill="#4a762e"/><ellipse cx="149.8" cy="104.9" rx="1.6" ry="1.3" fill="#4a762e"/><ellipse cx="1.2" cy="121.3" rx="1.4" ry="0.6" fill="#2e5220"/><ellipse cx="180.5" cy="118.6" rx="1.9" ry="1.3" fill="#7aa24c"/><ellipse cx="56.2" cy="99.2" rx="1.7" ry="0.9" fill="#7aa24c"/><ellipse cx="204.4" cy="92.5" rx="1.8" ry="1.3" fill="#3e6828"/><ellipse cx="159.5" cy="119.5" rx="1.9" ry="1.1" fill="#345c24"/><ellipse cx="163.4" cy="100.8" rx="2.2" ry="1.0" fill="#5a8638"/><ellipse cx="62.6" cy="124.6" rx="2.1" ry="1.3" fill="#3e6828"/><ellipse cx="72.2" cy="113.4" rx="1.5" ry="0.6" fill="#4a762e"/><ellipse cx="138.4" cy="131.3" rx="2.2" ry="1.3" fill="#3e6828"/><ellipse cx="166.7" cy="136.8" rx="1.1" ry="0.5" fill="#2e5220"/><ellipse cx="83.4" cy="105.3" rx="2.2" ry="1.7" fill="#5a8638"/><ellipse cx="29.6" cy="124.4" rx="1.3" ry="0.8" fill="#4a762e"/><ellipse cx="15.1" cy="103.8" rx="2.5" ry="1.6" fill="#345c24"/><ellipse cx="119.6" cy="136.4" rx="1.4" ry="1.0" fill="#8aac5a"/><ellipse cx="148.6" cy="133.2" rx="2.3" ry="1.2" fill="#7aa24c"/><ellipse cx="56.8" cy="98.3" rx="0.8" ry="0.4" fill="#345c24"/><ellipse cx="48.8" cy="88.0" rx="0.9" ry="0.5" fill="#345c24"/><ellipse cx="178.0" cy="120.5" rx="1.2" ry="0.8" fill="#7aa24c"/><ellipse cx="123.8" cy="90.4" rx="2.3" ry="1.7" fill="#4a762e"/><ellipse cx="148.1" cy="89.1" rx="1.3" ry="0.8" fill="#6a9440"/><ellipse cx="131.8" cy="133.2" rx="1.2" ry="0.6" fill="#6a9440"/><ellipse cx="133.7" cy="107.5" rx="2.0" ry="1.1" fill="#6a9440"/><ellipse cx="177.8" cy="127.4" rx="1.0" ry="0.6" fill="#2e5220"/><ellipse cx="203.5" cy="109.3" rx="2.5" ry="1.9" fill="#6a9440"/><ellipse cx="190.6" cy="116.7" rx="2.6" ry="1.1" fill="#4a762e"/><ellipse cx="32.3" cy="92.2" rx="1.2" ry="0.7" fill="#5a8638"/><ellipse cx="73.7" cy="103.5" rx="1.4" ry="1.0" fill="#7aa24c"/><ellipse cx="135.4" cy="117.3" rx="1.4" ry="1.0" fill="#345c24"/><ellipse cx="167.6" cy="112.3" rx="0.9" ry="0.6" fill="#2e5220"/><ellipse cx="115.2" cy="104.2" rx="1.8" ry="0.9" fill="#345c24"/><ellipse cx="1.9" cy="117.3" rx="2.0" ry="1.4" fill="#4a762e"/><ellipse cx="31.0" cy="120.2" rx="1.5" ry="1.2" fill="#6a9440"/><ellipse cx="128.7" cy="93.0" rx="1.8" ry="0.9" fill="#7aa24c"/><ellipse cx="53.4" cy="116.8" rx="2.1" ry="1.6" fill="#7aa24c"/><ellipse cx="108.9" cy="103.2" rx="2.1" ry="1.2" fill="#2e5220"/><ellipse cx="43.9" cy="132.7" rx="2.4" ry="1.3" fill="#3e6828"/><ellipse cx="66.7" cy="131.9" rx="1.0" ry="0.7" fill="#5a8638"/><ellipse cx="166.2" cy="132.9" rx="2.0" ry="1.1" fill="#3e6828"/><ellipse cx="116.2" cy="106.7" rx="2.5" ry="1.9" fill="#3e6828"/><ellipse cx="6.3" cy="99.1" rx="2.1" ry="1.0" fill="#4a762e"/><ellipse cx="41.9" cy="125.4" rx="2.0" ry="1.0" fill="#2e5220"/><ellipse cx="44.6" cy="116.0" rx="1.1" ry="0.8" fill="#345c24"/><ellipse cx="196.6" cy="97.0" rx="1.3" ry="0.6" fill="#6a9440"/><ellipse cx="100.0" cy="131.3" rx="1.1" ry="0.7" fill="#2e5220"/><ellipse cx="43.7" cy="90.9" rx="2.2" ry="1.6" fill="#4a762e"/><ellipse cx="9.5" cy="128.1" rx="1.6" ry="0.9" fill="#7aa24c"/><ellipse cx="204.9" cy="104.7" rx="0.8" ry="0.4" fill="#6a9440"/><ellipse cx="27.5" cy="106.1" rx="1.7" ry="0.9" fill="#7aa24c"/></g>
<g filter="url(#b1)">
<!-- fence planks -->
<path d="M96,0V30M105,0V30M114,0V24M123,0V20M132,0V46M141,20V48M189,14V64M197,10V64" stroke="#6a281c" stroke-width="1" fill="none" opacity="0.7"/>
<path d="M161,38V60M169,38V60M177,38V60M184,40V60" stroke="#e8d8d0" stroke-width="1.6" fill="none" opacity="0.8"/>
<rect x="148" y="46" width="44" height="4.5" fill="#8c4030"/>
<path d="M183,34 C190,40 198,46 205,58" stroke="#6a5036" stroke-width="2" fill="none"/>
<!-- pole -->
<rect x="83.5" y="0" width="2.2" height="30" fill="#9a9c9a"/>
<!-- windows -->
<rect x="0" y="0" width="25" height="10" fill="#e2dfe0"/>
<rect x="0" y="0.5" width="8" height="5" fill="#5e5964"/>
<rect x="10.5" y="0.5" width="10.5" height="7" fill="#6b6672"/>
<!-- dark left + post -->
<rect x="0" y="22" width="8" height="47" fill="#2a261f"/>
<path d="M0,19 L7,24 L7,28 L0,24Z" fill="#b87a38"/>
<path d="M5.5,18.5 Q10,16 14,18.5 L13.5,52 L8,52 Z" fill="#c07a2a"/>
<rect x="0" y="45" width="9" height="2.5" fill="#8a6a48"/>
<rect x="0" y="55" width="12" height="2.5" fill="#8a6a48"/>
<!-- grill -->
<path d="M12.5,30 L13,22 Q16,19.5 24,20.5 L27,24 Q33,21 39,24 L41,30 Z" fill="#2b3140"/>
<rect x="56.8" y="19" width="2.4" height="9.5" fill="#5a4a30"/>
<!-- lattice details -->
<path d="M14,31H107M14,59H107" stroke="#c2b9b0" stroke-width="1.2" fill="none"/>
<path d="M36,31V59M58,31V59M74,31V59M91,31V59" stroke="#bdb4aa" stroke-width="1.4" fill="none"/>
<rect x="38" y="35" width="9" height="20" fill="#d8d3cd" opacity="0.8"/>
<rect x="48" y="35" width="9" height="20" fill="#d8d3cd" opacity="0.8"/>
<rect x="76" y="34" width="13" height="22" fill="#e6e2dd" opacity="0.8"/>
<rect x="93" y="34" width="12" height="22" fill="#e6e2dd" opacity="0.8"/>
<!-- walker -->
<path d="M9,58 Q8,52.5 13,52.5 L23,52 Q28,52 27,58" stroke="#6ab048" stroke-width="3" fill="none"/>
<rect x="12" y="57" width="14" height="12" fill="#e8e4dc"/>
<path d="M11.8,58 L8,80" stroke="#36a4ba" stroke-width="2.9" fill="none"/>
<path d="M25.6,58 L28.6,80" stroke="#36a4ba" stroke-width="2.9" fill="none"/>
<path d="M14,74 L36,74" stroke="#e8e0d8" stroke-width="3" fill="none"/>
<ellipse cx="16" cy="74.5" rx="3" ry="2" fill="#e45aa0"/>
<ellipse cx="33" cy="68" rx="2.2" ry="3" fill="#d86a40"/>
<circle cx="5.5" cy="81.5" r="3.3" fill="#d42c48"/>
<circle cx="30" cy="81.5" r="3.3" fill="#d42c48"/>
<circle cx="19" cy="76" r="2.4" fill="#d42c48"/>
<circle cx="39" cy="75.8" r="2.6" fill="#d42c48"/>
<!-- mulch sharp -->
<path d="M157,58.5 L206,58.5 L206,70 L160,69.3 Z" fill="#4a3a28" opacity="0.85"/>
<ellipse cx="176" cy="64.5" rx="8" ry="3" fill="#5e6e34" opacity="0.9"/>
<ellipse cx="196" cy="63" rx="7" ry="3.4" fill="#6a6038" opacity="0.9"/>
<!-- pink car -->
<path d="M144,69 Q143,60 150,58 Q156,56 158,62 L159,69 Z" fill="#f2d6dc"/>
<circle cx="155" cy="67" r="2.6" fill="#d88a9a"/>
<!-- child back leg/foot behind horse -->
<path d="M145,88 L150,104 L152.5,113 L148.5,114 L144,100Z" fill="#d8a080"/>
<!-- child -->
<path d="M105,49 Q111,44.5 120,45.5 L127,49 L130,62 L126,84 L101,84 Q101.5,64 105,49Z" fill="#33353b"/>
<path d="M100.5,83 L119,83 L118,93 Q108,97 100,93Z" fill="#8c9296"/>
<path d="M101.5,92.5 L112,95 Q106,107 99,118 L91.5,115 Q95,103 101.5,92.5Z" fill="#ac7a5c"/>
<ellipse cx="93.8" cy="117.5" rx="4.8" ry="3.3" fill="#e2b494" transform="rotate(25 93.8 117.5)"/>
<ellipse cx="118.5" cy="34" rx="10.6" ry="13.6" fill="#dcae96"/>
<path d="M107.6,37 Q105,21 117,19.3 Q128.5,18.6 129,30 Q123,25.5 116.5,28.5 Q112,32 111.5,40 Z" fill="#ddd2b6"/>
<path d="M122.5,33.5h4M124,42.5h3.4" stroke="#8a5a4a" stroke-width="1.1" fill="none"/>
<path d="M126,36.5v3" stroke="#c48a74" stroke-width="1.4" fill="none"/>
<path d="M108,52 Q108,62 112,64" stroke="#30323a" stroke-width="5" fill="none"/>
<path d="M111,63.5 L125.5,53.5" stroke="#d4a084" stroke-width="5.4" stroke-linecap="round" fill="none"/>
<ellipse cx="126" cy="53" rx="3.6" ry="4" fill="#dcaa8c"/>
<path d="M109,50 l4,3 m2,-2 l3,4 m-8,3 l4,3 m4,8 l3,4 m-8,0 l2,5" stroke="#8e9096" stroke-width="1.6" fill="none"/>
<!-- horse -->
<path d="M132.4,62 Q131,49.5 135,49 Q138.5,49.5 137.5,62 Z" fill="#f08cae"/>
<path d="M138.5,63 Q139.5,52 143.5,51.2 Q146,54 144,65 Z" fill="#e2381c"/>
<path d="M133.8,59 Q134.2,53.5 135.6,52.5" stroke="#fbe0e6" stroke-width="1.4" fill="none"/>
<ellipse cx="132.6" cy="74" rx="13.4" ry="13.6" fill="#ee4a1c"/>
<ellipse cx="128" cy="102.5" rx="20" ry="21.5" fill="#ec481c"/>
<ellipse cx="123" cy="98" rx="10" ry="12" fill="#f25a2a" opacity="0.8"/>
<ellipse cx="138" cy="110" rx="8" ry="13" fill="#d83a16" opacity="0.5"/>
<ellipse cx="117" cy="122.5" rx="5" ry="4.3" fill="#e03a18"/>
<ellipse cx="141" cy="122" rx="4.8" ry="4.2" fill="#da3616"/>
<ellipse cx="124.6" cy="67.6" rx="3" ry="3.2" fill="#3eaed0"/>
<ellipse cx="143.3" cy="68.2" rx="1.7" ry="2.8" fill="#3eaed0"/>
<path d="M126,83 Q133,87.5 141,82.5" stroke="#c22c10" stroke-width="1.2" fill="none"/>
<ellipse cx="134" cy="63" rx="3" ry="1.6" fill="#f6c8c0" opacity="0.8"/>
<circle cx="112.4" cy="100.6" r="1.4" fill="#f4e6dc"/>
<circle cx="113" cy="109.4" r="1.5" fill="#f4e6dc"/>
</g>

</g>
<marker id="ah" markerUnits="userSpaceOnUse" markerWidth="20" markerHeight="16" refX="17.5" refY="7" orient="auto"><path d="M0,0 L17.5,7 L0,14 Z" fill="#000"/></marker>
</defs>
<rect width="1440" height="424" fill="#fff"/>

<use href="#photo" transform="translate(1.9 140.6)"/>
<text x="59.72" y="123.72" font-size="21.9" fill="#000" font-family="&quot;Liberation Sans&quot;, &quot;Noto Sans CJK SC&quot;, sans-serif" font-weight="500">输入图像</text>
<text x="485.74" y="94.48" font-size="21.7" fill="#000" font-family="&quot;Liberation Sans&quot;, &quot;Noto Sans CJK SC&quot;, sans-serif" font-weight="500">卷积</text>
<text x="752.68" y="167.21" font-size="21.8" fill="#000" font-family="&quot;Liberation Sans&quot;, &quot;Noto Sans CJK SC&quot;, sans-serif" font-weight="500">最大池化</text>
<text x="1071.89" y="62.23" font-size="21.5" fill="#000" font-family="&quot;Liberation Sans&quot;, &quot;Noto Sans CJK SC&quot;, sans-serif" font-weight="500">全连接</text>
<text x="1061.09" y="85.03" font-size="21.5" fill="#000" font-family="&quot;Liberation Sans&quot;, &quot;Noto Sans CJK SC&quot;, sans-serif" font-weight="500">神经网络</text>
<text x="1341.56" y="24.77" font-size="21.6" fill="#000" font-family="&quot;Liberation Sans&quot;, &quot;Noto Sans CJK SC&quot;, sans-serif" font-weight="500">输出</text>
<line x1="238.10" y1="209.40" x2="327.80" y2="209.40" stroke="#000" stroke-width="2.1"/><polygon points="345.10,209.40 326.80,216.00 326.80,202.80" fill="#000"/>
<line x1="638.10" y1="209.40" x2="727.80" y2="209.40" stroke="#000" stroke-width="2.1"/><polygon points="745.10,209.40 726.80,216.00 726.80,202.80" fill="#000"/>
<line x1="843.80" y1="209.40" x2="933.50" y2="209.40" stroke="#000" stroke-width="2.1"/><polygon points="950.80,209.40 932.50,216.00 932.50,202.80" fill="#000"/>
<line x1="1224.20" y1="185.90" x2="1284.24" y2="155.76" stroke="#000" stroke-width="2.1"/><polygon points="1299.70,148.00 1286.31,162.11 1280.38,150.31" fill="#000"/>
<line x1="1224.10" y1="264.90" x2="1289.22" y2="303.57" stroke="#000" stroke-width="2.1"/><polygon points="1304.10,312.40 1285.00,308.73 1291.73,297.38" fill="#000"/>
<clipPath id="dc"><polygon points="432.7,127.2 480,205 425.5,294.2 378.5,214.3"/></clipPath>
<g clip-path="url(#dc)"><use href="#photo" transform="matrix(0.26311 -0.42282 0.34182 0.58109 378.5 214.3)" filter="url(#b15)"/>
<ellipse cx="409" cy="228" rx="17" ry="27" fill="#fff" opacity="0.75" filter="url(#b3)" transform="rotate(-30 409 228)"/>
<path d="M383.02,207.04L430.04,286.77M387.53,199.78L434.58,279.33M392.05,192.53L439.12,271.90M396.57,185.27L443.67,264.47M401.08,178.01L448.21,257.03M405.60,170.75L452.75,249.60M410.12,163.49L457.29,242.17M414.63,156.23L461.83,234.73M419.15,148.98L466.38,227.30M423.67,141.72L470.92,219.87M428.18,134.46L475.46,212.43M383.20,222.29L437.43,134.98M387.90,230.28L442.16,142.76M392.60,238.27L446.89,150.54M397.30,246.26L451.62,158.32M402.00,254.25L456.35,166.10M406.70,262.24L461.08,173.88M411.40,270.23L465.81,181.66M416.10,278.22L470.54,189.44M420.80,286.21L475.27,197.22" stroke="#fff" stroke-width="1.5" fill="none"/></g>
<path d="M567.70,148.50l3.13,5.61M572.30,156.75l3.13,5.61M576.90,165.00l3.13,5.61M581.50,173.25l3.13,5.61M586.10,181.50l3.13,5.61M590.70,189.75l3.13,5.61M595.30,198.00l3.13,5.61M599.90,206.25l3.13,5.61M563.75,155.25l3.13,5.61M568.35,163.50l3.13,5.61M572.95,171.75l3.13,5.61M577.55,180.00l3.13,5.61M582.15,188.25l3.13,5.61M586.75,196.50l3.13,5.61M591.35,204.75l3.13,5.61M595.95,213.00l3.13,5.61M559.80,162.00l3.13,5.61M564.40,170.25l3.13,5.61M569.00,178.50l3.13,5.61M573.60,186.75l3.13,5.61M578.20,195.00l3.13,5.61M582.80,203.25l3.13,5.61M587.40,211.50l3.13,5.61M592.00,219.75l3.13,5.61M555.85,168.75l3.13,5.61M560.45,177.00l3.13,5.61M565.05,185.25l3.13,5.61M569.65,193.50l3.13,5.61M574.25,201.75l3.13,5.61M578.85,210.00l3.13,5.61M583.45,218.25l3.13,5.61M588.05,226.50l3.13,5.61M551.90,175.50l3.13,5.61M556.50,183.75l3.13,5.61M561.10,192.00l3.13,5.61M565.70,200.25l3.13,5.61M570.30,208.50l3.13,5.61M574.90,216.75l3.13,5.61M579.50,225.00l3.13,5.61M584.10,233.25l3.13,5.61M547.95,182.25l3.13,5.61M552.55,190.50l3.13,5.61M557.15,198.75l3.13,5.61M561.75,207.00l3.13,5.61M566.35,215.25l3.13,5.61M570.95,223.50l3.13,5.61M575.55,231.75l3.13,5.61M580.15,240.00l3.13,5.61M544.00,189.00l3.13,5.61M548.60,197.25l3.13,5.61M553.20,205.50l3.13,5.61M557.80,213.75l3.13,5.61M562.40,222.00l3.13,5.61M567.00,230.25l3.13,5.61M571.60,238.50l3.13,5.61M576.20,246.75l3.13,5.61M540.05,195.75l3.13,5.61M544.65,204.00l3.13,5.61M549.25,212.25l3.13,5.61M553.85,220.50l3.13,5.61M558.45,228.75l3.13,5.61M563.05,237.00l3.13,5.61M567.65,245.25l3.13,5.61M572.25,253.50l3.13,5.61M536.10,202.50l3.13,5.61M540.70,210.75l3.13,5.61M545.30,219.00l3.13,5.61M549.90,227.25l3.13,5.61M554.50,235.50l3.13,5.61M559.10,243.75l3.13,5.61M563.70,252.00l3.13,5.61M568.30,260.25l3.13,5.61M532.15,209.25l3.13,5.61M536.75,217.50l3.13,5.61M541.35,225.75l3.13,5.61M545.95,234.00l3.13,5.61M550.55,242.25l3.13,5.61M555.15,250.50l3.13,5.61M559.75,258.75l3.13,5.61M564.35,267.00l3.13,5.61M528.20,216.00l3.13,5.61M532.80,224.25l3.13,5.61M537.40,232.50l3.13,5.61M542.00,240.75l3.13,5.61M546.60,249.00l3.13,5.61M551.20,257.25l3.13,5.61M555.80,265.50l3.13,5.61M560.40,273.75l3.13,5.61" stroke="#DCC878" stroke-width="1.5" stroke-linecap="round" fill="none"/>
<polygon points="501.6,155.6 528.8,200 542.2,227.8 513.5,281.6 476.6,198.6" fill="#ADBFB8" stroke="#5C7068" stroke-width="1.4" stroke-linejoin="round"/>
<text transform="matrix(0.6853 -1.1633 0.9490 1.7121 490.2 219.3)" x="0" y="0" font-size="10" fill="#111" stroke="#111" stroke-width="0.33" font-family="&quot;Liberation Sans&quot;, sans-serif">Small</text>
<text transform="matrix(0.6599 -1.1201 0.9138 1.6486 501.6 239.0)" x="0" y="0" font-size="10" fill="#111" stroke="#111" stroke-width="0.35" font-family="&quot;Liberation Sans&quot;, sans-serif">Neural</text>
<text transform="matrix(0.6699 -1.1373 0.9279 1.6740 509.8 264.3)" x="0" y="0" font-size="10" fill="#111" stroke="#111" stroke-width="0.34" font-family="&quot;Liberation Sans&quot;, sans-serif">Network</text>
<polygon points="458.5,241.7 468.4,222.6 479.7,221.9 476.9,213.4 506.6,224.8 491.7,245.3 486,237.5" fill="#E8262A" fill-opacity="0.94"/>
<polygon points="536.3,213.8 547,212.2 543.7,203.9 573.4,215.5 556.9,236.1 552.8,227.9 542.6,228.7" fill="#E8262A" fill-opacity="0.96"/>
<path d="M767.0,189.60L767.0,196.80M767.0,200.93L767.0,208.13M767.0,212.26L767.0,219.46M767.0,223.59L767.0,230.79M778.4,189.60L778.4,196.80M778.4,200.93L778.4,208.13M778.4,212.26L778.4,219.46M778.4,223.59L778.4,230.79M789.7,189.60L789.7,196.80M789.7,200.93L789.7,208.13M789.7,212.26L789.7,219.46M789.7,223.59L789.7,230.79M801.0,189.60L801.0,196.80M801.0,200.93L801.0,208.13M801.0,212.26L801.0,219.46M801.0,223.59L801.0,230.79M812.4,189.60L812.4,196.80M812.4,200.93L812.4,208.13M812.4,212.26L812.4,219.46M812.4,223.59L812.4,230.79M824.0,189.60L824.0,196.80M824.0,200.93L824.0,208.13M824.0,212.26L824.0,219.46M824.0,223.59L824.0,230.79" stroke="#A68C26" stroke-width="3.5" stroke-linecap="round" fill="none"/>
<g fill="#A9C3BB" stroke="#69857C" stroke-width="1.75"><circle cx="989.75" cy="115.00" r="7.0"/><circle cx="989.75" cy="130.14" r="7.0"/><circle cx="989.75" cy="145.28" r="7.0"/><circle cx="989.75" cy="160.42" r="7.0"/><circle cx="989.75" cy="175.56" r="7.0"/><circle cx="989.75" cy="190.70" r="7.0"/><circle cx="989.75" cy="205.84" r="7.0"/><circle cx="989.75" cy="220.98" r="7.0"/><circle cx="989.75" cy="236.12" r="7.0"/><circle cx="989.75" cy="251.26" r="7.0"/><circle cx="989.75" cy="266.40" r="7.0"/><circle cx="989.75" cy="281.54" r="7.0"/><circle cx="989.75" cy="296.68" r="7.0"/><circle cx="989.75" cy="311.82" r="7.0"/><circle cx="989.75" cy="326.96" r="7.0"/><circle cx="1004.92" cy="115.00" r="7.0"/><circle cx="1004.92" cy="130.14" r="7.0"/><circle cx="1004.92" cy="145.28" r="7.0"/><circle cx="1004.92" cy="160.42" r="7.0"/><circle cx="1004.92" cy="175.56" r="7.0"/><circle cx="1004.92" cy="190.70" r="7.0"/><circle cx="1004.92" cy="205.84" r="7.0"/><circle cx="1004.92" cy="220.98" r="7.0"/><circle cx="1004.92" cy="236.12" r="7.0"/><circle cx="1004.92" cy="251.26" r="7.0"/><circle cx="1004.92" cy="266.40" r="7.0"/><circle cx="1004.92" cy="281.54" r="7.0"/><circle cx="1004.92" cy="296.68" r="7.0"/><circle cx="1004.92" cy="311.82" r="7.0"/><circle cx="1004.92" cy="326.96" r="7.0"/><circle cx="1020.10" cy="115.00" r="7.0"/><circle cx="1020.10" cy="130.14" r="7.0"/><circle cx="1020.10" cy="145.28" r="7.0"/><circle cx="1020.10" cy="160.42" r="7.0"/><circle cx="1020.10" cy="175.56" r="7.0"/><circle cx="1020.10" cy="190.70" r="7.0"/><circle cx="1020.10" cy="205.84" r="7.0"/><circle cx="1020.10" cy="220.98" r="7.0"/><circle cx="1020.10" cy="236.12" r="7.0"/><circle cx="1020.10" cy="251.26" r="7.0"/><circle cx="1020.10" cy="266.40" r="7.0"/><circle cx="1020.10" cy="281.54" r="7.0"/><circle cx="1020.10" cy="296.68" r="7.0"/><circle cx="1020.10" cy="311.82" r="7.0"/><circle cx="1020.10" cy="326.96" r="7.0"/><circle cx="1035.28" cy="115.00" r="7.0"/><circle cx="1035.28" cy="130.14" r="7.0"/><circle cx="1035.28" cy="145.28" r="7.0"/><circle cx="1035.28" cy="160.42" r="7.0"/><circle cx="1035.28" cy="175.56" r="7.0"/><circle cx="1035.28" cy="190.70" r="7.0"/><circle cx="1035.28" cy="205.84" r="7.0"/><circle cx="1035.28" cy="220.98" r="7.0"/><circle cx="1035.28" cy="236.12" r="7.0"/><circle cx="1035.28" cy="251.26" r="7.0"/><circle cx="1035.28" cy="266.40" r="7.0"/><circle cx="1035.28" cy="281.54" r="7.0"/><circle cx="1035.28" cy="296.68" r="7.0"/><circle cx="1035.28" cy="311.82" r="7.0"/><circle cx="1035.28" cy="326.96" r="7.0"/><circle cx="1050.45" cy="115.00" r="7.0"/><circle cx="1050.45" cy="130.14" r="7.0"/><circle cx="1050.45" cy="145.28" r="7.0"/><circle cx="1050.45" cy="160.42" r="7.0"/><circle cx="1050.45" cy="175.56" r="7.0"/><circle cx="1050.45" cy="190.70" r="7.0"/><circle cx="1050.45" cy="205.84" r="7.0"/><circle cx="1050.45" cy="220.98" r="7.0"/><circle cx="1050.45" cy="236.12" r="7.0"/><circle cx="1050.45" cy="251.26" r="7.0"/><circle cx="1050.45" cy="266.40" r="7.0"/><circle cx="1050.45" cy="281.54" r="7.0"/><circle cx="1050.45" cy="296.68" r="7.0"/><circle cx="1050.45" cy="311.82" r="7.0"/><circle cx="1050.45" cy="326.96" r="7.0"/><circle cx="1065.62" cy="115.00" r="7.0"/><circle cx="1065.62" cy="130.14" r="7.0"/><circle cx="1065.62" cy="145.28" r="7.0"/><circle cx="1065.62" cy="160.42" r="7.0"/><circle cx="1065.62" cy="175.56" r="7.0"/><circle cx="1065.62" cy="190.70" r="7.0"/><circle cx="1065.62" cy="205.84" r="7.0"/><circle cx="1065.62" cy="220.98" r="7.0"/><circle cx="1065.62" cy="236.12" r="7.0"/><circle cx="1065.62" cy="251.26" r="7.0"/><circle cx="1065.62" cy="266.40" r="7.0"/><circle cx="1065.62" cy="281.54" r="7.0"/><circle cx="1065.62" cy="296.68" r="7.0"/><circle cx="1065.62" cy="311.82" r="7.0"/><circle cx="1065.62" cy="326.96" r="7.0"/><circle cx="1080.80" cy="115.00" r="7.0"/><circle cx="1080.80" cy="130.14" r="7.0"/><circle cx="1080.80" cy="145.28" r="7.0"/><circle cx="1080.80" cy="160.42" r="7.0"/><circle cx="1080.80" cy="175.56" r="7.0"/><circle cx="1080.80" cy="190.70" r="7.0"/><circle cx="1080.80" cy="205.84" r="7.0"/><circle cx="1080.80" cy="220.98" r="7.0"/><circle cx="1080.80" cy="236.12" r="7.0"/><circle cx="1080.80" cy="251.26" r="7.0"/><circle cx="1080.80" cy="266.40" r="7.0"/><circle cx="1080.80" cy="281.54" r="7.0"/><circle cx="1080.80" cy="296.68" r="7.0"/><circle cx="1080.80" cy="311.82" r="7.0"/><circle cx="1080.80" cy="326.96" r="7.0"/><circle cx="1095.97" cy="115.00" r="7.0"/><circle cx="1095.97" cy="130.14" r="7.0"/><circle cx="1095.97" cy="145.28" r="7.0"/><circle cx="1095.97" cy="160.42" r="7.0"/><circle cx="1095.97" cy="175.56" r="7.0"/><circle cx="1095.97" cy="190.70" r="7.0"/><circle cx="1095.97" cy="205.84" r="7.0"/><circle cx="1095.97" cy="220.98" r="7.0"/><circle cx="1095.97" cy="236.12" r="7.0"/><circle cx="1095.97" cy="251.26" r="7.0"/><circle cx="1095.97" cy="266.40" r="7.0"/><circle cx="1095.97" cy="281.54" r="7.0"/><circle cx="1095.97" cy="296.68" r="7.0"/><circle cx="1095.97" cy="311.82" r="7.0"/><circle cx="1095.97" cy="326.96" r="7.0"/><circle cx="1111.15" cy="115.00" r="7.0"/><circle cx="1111.15" cy="130.14" r="7.0"/><circle cx="1111.15" cy="145.28" r="7.0"/><circle cx="1111.15" cy="160.42" r="7.0"/><circle cx="1111.15" cy="175.56" r="7.0"/><circle cx="1111.15" cy="190.70" r="7.0"/><circle cx="1111.15" cy="205.84" r="7.0"/><circle cx="1111.15" cy="220.98" r="7.0"/><circle cx="1111.15" cy="236.12" r="7.0"/><circle cx="1111.15" cy="251.26" r="7.0"/><circle cx="1111.15" cy="266.40" r="7.0"/><circle cx="1111.15" cy="281.54" r="7.0"/><circle cx="1111.15" cy="296.68" r="7.0"/><circle cx="1111.15" cy="311.82" r="7.0"/><circle cx="1111.15" cy="326.96" r="7.0"/><circle cx="1126.33" cy="115.00" r="7.0"/><circle cx="1126.33" cy="130.14" r="7.0"/><circle cx="1126.33" cy="145.28" r="7.0"/><circle cx="1126.33" cy="160.42" r="7.0"/><circle cx="1126.33" cy="175.56" r="7.0"/><circle cx="1126.33" cy="190.70" r="7.0"/><circle cx="1126.33" cy="205.84" r="7.0"/><circle cx="1126.33" cy="220.98" r="7.0"/><circle cx="1126.33" cy="236.12" r="7.0"/><circle cx="1126.33" cy="251.26" r="7.0"/><circle cx="1126.33" cy="266.40" r="7.0"/><circle cx="1126.33" cy="281.54" r="7.0"/><circle cx="1126.33" cy="296.68" r="7.0"/><circle cx="1126.33" cy="311.82" r="7.0"/><circle cx="1126.33" cy="326.96" r="7.0"/><circle cx="1141.50" cy="115.00" r="7.0"/><circle cx="1141.50" cy="130.14" r="7.0"/><circle cx="1141.50" cy="145.28" r="7.0"/><circle cx="1141.50" cy="160.42" r="7.0"/><circle cx="1141.50" cy="175.56" r="7.0"/><circle cx="1141.50" cy="190.70" r="7.0"/><circle cx="1141.50" cy="205.84" r="7.0"/><circle cx="1141.50" cy="220.98" r="7.0"/><circle cx="1141.50" cy="236.12" r="7.0"/><circle cx="1141.50" cy="251.26" r="7.0"/><circle cx="1141.50" cy="266.40" r="7.0"/><circle cx="1141.50" cy="281.54" r="7.0"/><circle cx="1141.50" cy="296.68" r="7.0"/><circle cx="1141.50" cy="311.82" r="7.0"/><circle cx="1141.50" cy="326.96" r="7.0"/><circle cx="1156.67" cy="115.00" r="7.0"/><circle cx="1156.67" cy="130.14" r="7.0"/><circle cx="1156.67" cy="145.28" r="7.0"/><circle cx="1156.67" cy="160.42" r="7.0"/><circle cx="1156.67" cy="175.56" r="7.0"/><circle cx="1156.67" cy="190.70" r="7.0"/><circle cx="1156.67" cy="205.84" r="7.0"/><circle cx="1156.67" cy="220.98" r="7.0"/><circle cx="1156.67" cy="236.12" r="7.0"/><circle cx="1156.67" cy="251.26" r="7.0"/><circle cx="1156.67" cy="266.40" r="7.0"/><circle cx="1156.67" cy="281.54" r="7.0"/><circle cx="1156.67" cy="296.68" r="7.0"/><circle cx="1156.67" cy="311.82" r="7.0"/><circle cx="1156.67" cy="326.96" r="7.0"/><circle cx="1171.85" cy="115.00" r="7.0"/><circle cx="1171.85" cy="130.14" r="7.0"/><circle cx="1171.85" cy="145.28" r="7.0"/><circle cx="1171.85" cy="160.42" r="7.0"/><circle cx="1171.85" cy="175.56" r="7.0"/><circle cx="1171.85" cy="190.70" r="7.0"/><circle cx="1171.85" cy="205.84" r="7.0"/><circle cx="1171.85" cy="220.98" r="7.0"/><circle cx="1171.85" cy="236.12" r="7.0"/><circle cx="1171.85" cy="251.26" r="7.0"/><circle cx="1171.85" cy="266.40" r="7.0"/><circle cx="1171.85" cy="281.54" r="7.0"/><circle cx="1171.85" cy="296.68" r="7.0"/><circle cx="1171.85" cy="311.82" r="7.0"/><circle cx="1171.85" cy="326.96" r="7.0"/><circle cx="1187.03" cy="115.00" r="7.0"/><circle cx="1187.03" cy="130.14" r="7.0"/><circle cx="1187.03" cy="145.28" r="7.0"/><circle cx="1187.03" cy="160.42" r="7.0"/><circle cx="1187.03" cy="175.56" r="7.0"/><circle cx="1187.03" cy="190.70" r="7.0"/><circle cx="1187.03" cy="205.84" r="7.0"/><circle cx="1187.03" cy="220.98" r="7.0"/><circle cx="1187.03" cy="236.12" r="7.0"/><circle cx="1187.03" cy="251.26" r="7.0"/><circle cx="1187.03" cy="266.40" r="7.0"/><circle cx="1187.03" cy="281.54" r="7.0"/><circle cx="1187.03" cy="296.68" r="7.0"/><circle cx="1187.03" cy="311.82" r="7.0"/><circle cx="1187.03" cy="326.96" r="7.0"/><circle cx="1202.20" cy="115.00" r="7.0"/><circle cx="1202.20" cy="130.14" r="7.0"/><circle cx="1202.20" cy="145.28" r="7.0"/><circle cx="1202.20" cy="160.42" r="7.0"/><circle cx="1202.20" cy="175.56" r="7.0"/><circle cx="1202.20" cy="190.70" r="7.0"/><circle cx="1202.20" cy="205.84" r="7.0"/><circle cx="1202.20" cy="220.98" r="7.0"/><circle cx="1202.20" cy="236.12" r="7.0"/><circle cx="1202.20" cy="251.26" r="7.0"/><circle cx="1202.20" cy="266.40" r="7.0"/><circle cx="1202.20" cy="281.54" r="7.0"/><circle cx="1202.20" cy="296.68" r="7.0"/><circle cx="1202.20" cy="311.82" r="7.0"/><circle cx="1202.20" cy="326.96" r="7.0"/><circle cx="1217.38" cy="115.00" r="7.0"/><circle cx="1217.38" cy="130.14" r="7.0"/><circle cx="1217.38" cy="145.28" r="7.0"/><circle cx="1217.38" cy="160.42" r="7.0"/><circle cx="1217.38" cy="175.56" r="7.0"/><circle cx="1217.38" cy="190.70" r="7.0"/><circle cx="1217.38" cy="205.84" r="7.0"/><circle cx="1217.38" cy="220.98" r="7.0"/><circle cx="1217.38" cy="236.12" r="7.0"/><circle cx="1217.38" cy="251.26" r="7.0"/><circle cx="1217.38" cy="266.40" r="7.0"/><circle cx="1217.38" cy="281.54" r="7.0"/><circle cx="1217.38" cy="296.68" r="7.0"/><circle cx="1217.38" cy="311.82" r="7.0"/><circle cx="1217.38" cy="326.96" r="7.0"/></g>
<circle cx="1364.4" cy="117.6" r="70.6" fill="#E0C53E" stroke="#A8922C" stroke-width="1"/>
<circle cx="1365.2" cy="353.2" r="70.8" fill="#E0C53E" stroke="#A8922C" stroke-width="1"/>
<text x="1338.61" y="109.84" font-size="16" fill="#000" font-family="&quot;Liberation Sans&quot;, &quot;Noto Sans CJK SC&quot;, sans-serif" font-weight="500">匹配的</text>
<text x="1338.74" y="131.41" font-size="16" fill="#000" font-family="&quot;Liberation Sans&quot;, &quot;Noto Sans CJK SC&quot;, sans-serif" font-weight="500">可能性</text>
<text x="1330.61" y="348.41" font-size="16" fill="#000" font-family="&quot;Liberation Sans&quot;, &quot;Noto Sans CJK SC&quot;, sans-serif" font-weight="500">不匹配的</text>
<text x="1338.94" y="370.11" font-size="16" fill="#000" font-family="&quot;Liberation Sans&quot;, &quot;Noto Sans CJK SC&quot;, sans-serif" font-weight="500">可能性</text>
</svg>
<div style="position:absolute;left:0;top:0;width:1px;height:1px;overflow:hidden;opacity:0;font-size:1px;color:transparent"><span>输入图像</span> <span>卷积</span> <span>Small Neural Network</span> <span>最大池化</span> <span>全连接 神经网络</span> <span>输出</span> <span>匹配的 可能性</span> <span>不匹配的 可能性</span></div>
</body></html>
